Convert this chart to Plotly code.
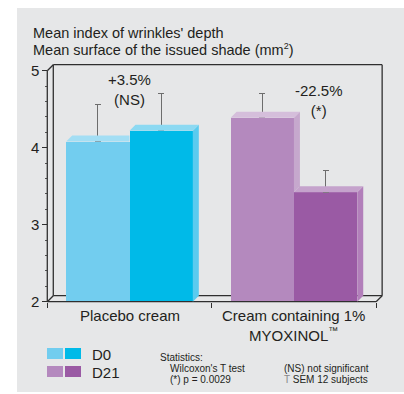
import plotly.graph_objects as go

categories = ["Placebo cream", "Cream containing 1%<br>MYOXINOL<sup><span style='font-size:10px'>™</span></sup>"]
series = ["D0", "D21"]
d0_values = [4.08, 4.39]
d21_values = [4.22, 3.42]
d0_sem = [0.48, 0.32]
d21_sem = [0.48, 0.29]
change_labels = ["+3.5%<br>(NS)", "-22.5%<br>(*)"]

front_colors = {"D0": ["#72CDEF", "#B489BE"], "D21": ["#00BAE8", "#9A5AA4"]}
top_colors = {"D0": ["#A3DEF4", "#D5BEDB"], "D21": ["#8CD9F2", "#C5A3CC"]}
side_colors = {"D0": ["#5FC8EE", "#C6A8CD"], "D21": ["#5ACBEF", "#B27FBA"]}

FONT = "Liberation Sans, Arial, sans-serif"
W = 0.385           # bar width in category units
OFF = 0.1925        # bar offset from category centre
DX, DY = 0.0365, 0.078  # 3D depth in data units
XMIN, XMAX = -0.52, 1.56
YMIN, YMAX = 1.97, 5.10
BASE = 2.0
ML, MR, MT, MB = 44, 18, 63, 90

def px_x(px):
    return (px - ML) / (404 - ML - MR)
def px_y(py):
    return 1 - (py - MT) / (394 - MT - MB)

fig = go.Figure()
vals = {"D0": d0_values, "D21": d21_values}
sems = {"D0": d0_sem, "D21": d21_sem}
offs = {"D0": -OFF, "D21": OFF}
for s in series:
    fig.add_trace(go.Bar(
        x=[i + offs[s] for i in range(len(categories))],
        y=[v - BASE for v in vals[s]], base=BASE, width=W,
        marker=dict(color=front_colors[s], line=dict(width=0)),
        error_y=dict(type="data", array=sems[s], arrayminus=[0] * len(categories),
                     symmetric=False, color="#6d6d6d", thickness=1, width=3),
        name=s, showlegend=False, hoverinfo="skip"))

shapes = []
line_c = "#2f2f2f"
shapes.append(dict(type="rect", xref="paper", yref="paper", x0=px_x(17), x1=px_x(410),
                   y0=px_y(392), y1=px_y(8), fillcolor="#E6E7E8", line=dict(width=0), layer="below"))

def seg(x0, y0, x1, y1, layer="below", w=1.3):
    shapes.append(dict(type="line", xref="x", yref="y", x0=x0, y0=y0, x1=x1, y1=y1,
                       line=dict(color=line_c, width=w), layer=layer))

L, R = -0.5, 1.5
seg(L + DX, BASE + DY, L + DX, 5 + DY)
seg(L + DX, 5 + DY, R + DX, 5 + DY)
seg(R + DX, 5 + DY, R + DX, BASE + DY)
seg(L + DX, BASE + DY, R + DX, BASE + DY)
seg(L, BASE, L + DX, BASE + DY)
seg(R, BASE, R + DX, BASE + DY)
seg(L, 5, L + DX, 5 + DY)
seg(L, BASE, L, 5, layer="above")
seg(L, BASE, R, BASE, layer="above")

def poly(pts, color):
    path = "M " + " L ".join(f"{x},{y}" for x, y in pts) + " Z"
    shapes.append(dict(type="path", xref="x", yref="y", path=path,
                       fillcolor=color, line=dict(width=0), layer="above"))

for i in range(len(categories)):
    v1, v2 = d0_values[i], d21_values[i]
    a0, a1 = i - OFF - W / 2, i - OFF + W / 2
    b0, b1 = i + OFF - W / 2, i + OFF + W / 2
    if v1 > v2:
        poly([(a1, v2), (a1, v1), (a1 + DX, v1 + DY), (a1 + DX, v2 + DY)], side_colors["D0"][i])
        poly([(a0, v1), (a1, v1), (a1 + DX, v1 + DY), (a0 + DX, v1 + DY)], top_colors["D0"][i])
    else:
        poly([(a0, v1), (a1, v1), (a1, v1 + DY), (a0 + DX, v1 + DY)], top_colors["D0"][i])
    poly([(b1, BASE), (b1, v2), (b1 + DX, v2 + DY), (b1 + DX, BASE + DY)], side_colors["D21"][i])
    poly([(b0, v2), (b1, v2), (b1 + DX, v2 + DY), (b0 + DX, v2 + DY)], top_colors["D21"][i])

annotations = []
for i, c in enumerate(categories):
    annotations.append(dict(x=i, y=BASE, xref="x", yref="y", yshift=-3, text=c, showarrow=False,
                            yanchor="top", xanchor="center",
                            font=dict(size=15, color="#231f20", family=FONT)))
lab_x = [0.0, 1.15]
lab_y = [4.75, 4.61]
for i, t in enumerate(change_labels):
    annotations.append(dict(x=lab_x[i], y=lab_y[i], xref="x", yref="y", text=t, showarrow=False,
                            font=dict(size=15, color="#231f20", family=FONT)))

title_lines = ["Mean index of wrinkles' depth",
               "Mean surface of the issued shade (mm<sup><span style='font-size:9px'>2</span></sup>)"]
for k, t in enumerate(title_lines):
    annotations.append(dict(x=px_x(31), y=px_y(33 + 17 * k), xref="paper", yref="paper", text=t,
                            showarrow=False, xanchor="left", yanchor="middle",
                            font=dict(size=14.5, color="#231f20", family=FONT)))

legend_colors = [[front_colors["D0"][0], front_colors["D21"][0]],
                 [front_colors["D0"][1], front_colors["D21"][1]]]
for r, s in enumerate(series):
    y0 = 348 + 18 * r
    for j, col in enumerate(legend_colors[r]):
        x0 = 47 + 18 * j
        shapes.append(dict(type="rect", xref="paper", yref="paper",
                           x0=px_x(x0), x1=px_x(x0 + 16), y0=px_y(y0 + 11), y1=px_y(y0),
                           fillcolor=col, line=dict(width=0), layer="above"))
    annotations.append(dict(x=px_x(90), y=px_y(y0 + 6), xref="paper", yref="paper", text=s,
                            showarrow=False, xanchor="left", yanchor="middle",
                            font=dict(size=15, color="#231f20", family=FONT)))

stats = [("Statistics:", 158, 357), ("Wilcoxon's T test", 168, 368), ("(*) p = 0.0029", 168, 379),
         ("(NS) not significant", 282, 368),
         ("<span style='color:#888'>T</span> SEM 12 subjects", 282, 379)]
for t, x, y in stats:
    annotations.append(dict(x=px_x(x), y=px_y(y), xref="paper", yref="paper", text=t,
                            showarrow=False, xanchor="left", yanchor="middle",
                            font=dict(size=10, color="#231f20", family=FONT)))

fig.update_layout(
    width=404, height=394, margin=dict(l=ML, r=MR, t=MT, b=MB),
    paper_bgcolor="white", plot_bgcolor="rgba(0,0,0,0)",
    barmode="overlay", bargap=0,
    font=dict(family=FONT, color="#231f20"),
    xaxis=dict(range=[XMIN, XMAX], showgrid=False, zeroline=False, showline=False,
               showticklabels=False, tickvals=[-0.5, 0.5, 1.5], ticks="outside", ticklen=5,
               tickcolor=line_c, anchor="free", position=(BASE - YMIN) / (YMAX - YMIN)),
    yaxis=dict(range=[YMIN, YMAX], showgrid=False, zeroline=False, showline=False,
               tickvals=[2, 3, 4, 5], ticks="outside", ticklen=5, tickcolor=line_c,
               tickfont=dict(size=15, color="#231f20", family=FONT),
               minor=dict(dtick=0.2, tick0=2, ticks="outside", ticklen=2, tickcolor="#555"),
               anchor="free", position=(-0.5 - XMIN) / (XMAX - XMIN)),
    shapes=shapes, annotations=annotations,
)
fig.write_html("out.html")
